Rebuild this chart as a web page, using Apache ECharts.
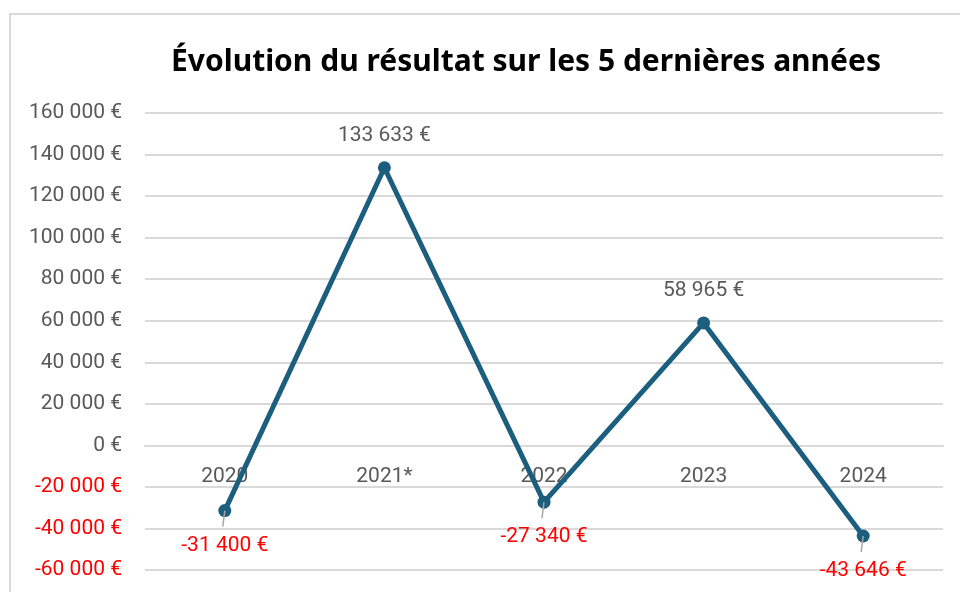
<!DOCTYPE html>
<html>
<head>
<meta charset="utf-8">
<script src="https://cdn.jsdelivr.net/npm/echarts@6/dist/echarts.min.js"></script>
<style>
  html, body { margin: 0; padding: 0; background: #fff; }
  #chart { width: 960px; height: 592px; }
</style>
</head>
<body>
<div id="chart"></div>
<script>
var years = ['2020', '2021*', '2022', '2023', '2024']
var resultats = [-31400, 133633, -27340, 58965, -43646]
var yMin = -60000
var yMax = 160000
var yStep = 20000

function euro(v) {
  var s = String(Math.abs(v)).replace(/\B(?=(\d{3})+(?!\d))/g, ' ')
  return (v < 0 ? '-' : '') + s + ' €'
}

var chart = echarts.init(document.getElementById('chart'))
chart.setOption({
  animation: false,
  textStyle: { fontFamily: 'Roboto' },
  title: {
    text: 'Évolution du résultat sur les 5 dernières années',
    left: 521,
    top: 42,
    textAlign: 'center',
    textStyle: { fontFamily: 'Noto Sans', fontWeight: 'bold', fontSize: 30, color: '#000' }
  },
  graphic: [{
    type: 'rect',
    shape: { x: 10, y: 14, width: 1000, height: 700 },
    style: { fill: 'none', stroke: '#d9d9d9', lineWidth: 2 },
    silent: true
  }],
  grid: { left: 145, right: 17, top: 113, bottom: 22, containLabel: false, outerBoundsMode: 'none' },
  xAxis: {
    type: 'category',
    data: years,
    boundaryGap: true,
    position: 'bottom',
    // axe remonté au niveau du zéro (-60000 -> 0 : 3/11 de la hauteur)
    offset: -124,
    axisLine: { onZero: false, lineStyle: { color: '#d9d9d9', width: 2 } },
    axisTick: { show: false },
    axisLabel: { margin: 20, fontSize: 21, color: '#595959' }
  },
  yAxis: {
    type: 'value',
    min: yMin,
    max: yMax,
    interval: yStep,
    axisLine: { show: false },
    axisTick: { show: false },
    splitLine: { lineStyle: { color: '#d9d9d9', width: 2 } },
    axisLabel: {
      margin: 23,
      fontSize: 21,
      formatter: euro,
      color: function (v) { return Number(v) < 0 ? '#ff0000' : '#595959' }
    }
  },
  series: [{
    type: 'line',
    data: resultats.map(function (v) {
      return {
        value: v,
        label: {
          position: v < 0 ? 'bottom' : 'top',
          distance: v < 0 ? 18 : 15,
          color: v < 0 ? '#ff0000' : '#595959'
        }
      }
    }),
    symbol: 'circle',
    symbolSize: 13,
    lineStyle: { color: '#1b5e7e', width: 5 },
    itemStyle: { color: '#1b5e7e' },
    label: {
      show: true,
      fontSize: 21,
      formatter: function (p) { return euro(p.value) }
    },
    z: 3
  }, {
    // petits traits de rappel sous les valeurs négatives
    type: 'custom',
    data: resultats.map(function (v, i) { return [i, v] }),
    z: 4,
    silent: true,
    renderItem: function (params, api) {
      if (api.value(1) >= 0) return null
      var p = api.coord([api.value(0), api.value(1)])
      return {
        type: 'line',
        shape: { x1: p[0], y1: p[1], x2: p[0] - 2, y2: p[1] + 16 },
        style: { stroke: '#a6a6a6', lineWidth: 1.5 }
      }
    }
  }]
})
</script>
</body>
</html>
